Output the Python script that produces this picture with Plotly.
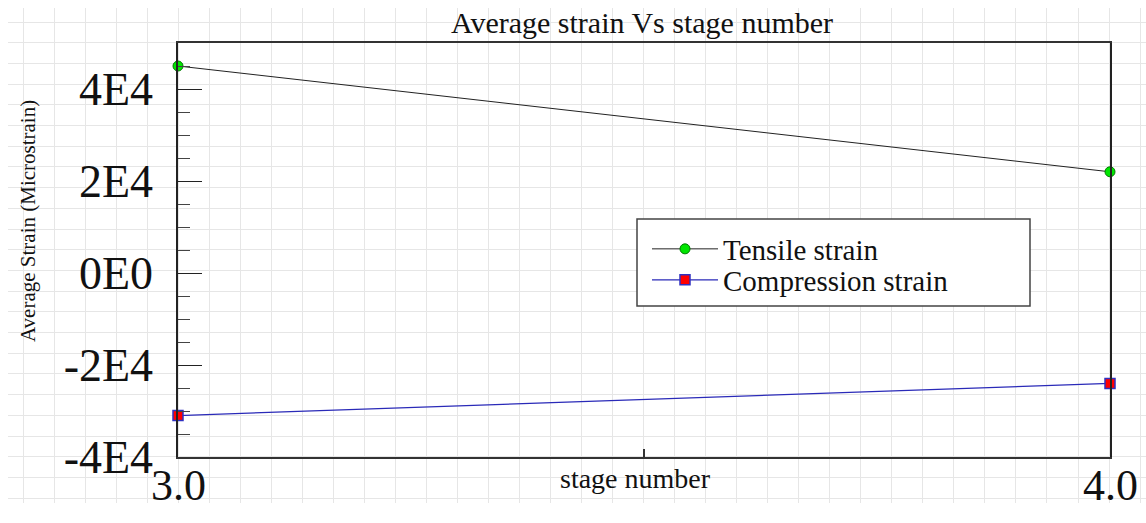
import plotly.graph_objects as go

# ---- data -------------------------------------------------------------
stage = [3.0, 4.0]
tensile_strain = [45000, 22000]
compression_strain = [-31000, -24000]

x_tick_vals = [3.0, 3.5, 4.0]
x_tick_text = ["3.0", "", "4.0"]
y_tick_vals = [-40000, -20000, 0, 20000, 40000]
y_tick_text = ["-4E4", "-2E4", "0E0", "2E4", "4E4"]

# ---- layout constants (pixels) ---------------------------------------
W, H = 1146, 523
FONT = "Liberation Serif, Times New Roman, serif"
PLOT_L, PLOT_R, PLOT_T, PLOT_B = 178, 1110, 43, 457


def px_x(p):
    return p / W


def px_y(p):
    return 1 - p / H


fig = go.Figure()

# Background sheet grid lives on the first (lowest) subplot
fig.add_trace(go.Scatter(
    x=[8], y=[8], mode="markers", marker=dict(opacity=0),
    hoverinfo="skip", showlegend=False, xaxis="x", yaxis="y",
))

# Data series on the second subplot
fig.add_trace(go.Scatter(
    x=stage, y=tensile_strain, name="Tensile strain",
    mode="lines+markers", xaxis="x2", yaxis="y2", legend="legend",
    line=dict(color="#222222", width=1),
    marker=dict(symbol="circle", size=10, color="#00e600",
                line=dict(color="#007a00", width=1)),
    cliponaxis=False,
))
fig.add_trace(go.Scatter(
    x=stage, y=compression_strain, name="Compression strain",
    mode="lines+markers", xaxis="x2", yaxis="y2", legend="legend2",
    line=dict(color="#2a2ab8", width=1.2),
    marker=dict(symbol="square", size=10, color="#ff0000",
                line=dict(color="#3030c0", width=1.5)),
    cliponaxis=False,
))

legend_common = dict(
    xanchor="left", yanchor="middle", bgcolor="rgba(0,0,0,0)",
    borderwidth=0, itemwidth=66,
    font=dict(family=FONT, size=29, color="#111111"),
)

# x tick labels sit close under the frame, drawn as data-anchored text
x_label_annotations = [
    dict(text=t, x=v, xref="x2", y=px_y(485), yref="paper", showarrow=False,
         xanchor="center", yanchor="middle",
         font=dict(family=FONT, size=44, color="#111111"))
    for v, t in zip(x_tick_vals, x_tick_text) if t
]

fig.update_layout(
    width=W, height=H,
    margin=dict(l=0, r=0, t=0, b=0, autoexpand=False),
    paper_bgcolor="white", plot_bgcolor="rgba(0,0,0,0)",
    showlegend=True,
    title=dict(text="Average strain Vs stage number", x=px_x(642), xanchor="center",
               y=px_y(22), yanchor="middle",
               font=dict(family=FONT, size=30, color="#111111")),
    xaxis=dict(domain=[px_x(8), 1], range=[8, W], tick0=23, dtick=31.03,
               showgrid=True, gridcolor="#e6e6e6", gridwidth=1.2,
               zeroline=False, showline=False, showticklabels=False, ticks=""),
    yaxis=dict(domain=[px_y(503), px_y(8)], range=[503, 8], tick0=22, dtick=20.7,
               showgrid=True, gridcolor="#e6e6e6", gridwidth=1.2,
               zeroline=False, showline=False, showticklabels=False, ticks=""),
    xaxis2=dict(domain=[px_x(PLOT_L), px_x(PLOT_R)], anchor="y2", range=[3, 4],
                tickvals=x_tick_vals, showticklabels=False,
                ticks="inside", ticklen=8, tickwidth=1.5, tickcolor="#333333",
                showline=True, mirror=True, linecolor="#333333", linewidth=1.5,
                showgrid=False, zeroline=False),
    yaxis2=dict(domain=[px_y(PLOT_B), px_y(PLOT_T)], anchor="x2",
                range=[-40000, 50000],
                tickvals=y_tick_vals, ticktext=y_tick_text,
                ticks="inside", ticklen=24, tickwidth=1.2, tickcolor="#222222",
                minor=dict(dtick=5000, ticks="inside", ticklen=12,
                           tickwidth=1.2, tickcolor="#444444"),
                showline=True, mirror=True, linecolor="#222222", linewidth=1.5,
                showgrid=False, zeroline=False, ticklabelstandoff=14,
                tickfont=dict(family=FONT, size=46, color="#111111")),
    legend=dict(x=px_x(647), y=px_y(249), **legend_common),
    legend2=dict(x=px_x(647), y=px_y(280), **legend_common),
    shapes=[dict(type="rect", xref="paper", yref="paper",
                 x0=px_x(637), x1=px_x(1030), y0=px_y(306), y1=px_y(219),
                 fillcolor="white", line=dict(color="#444444", width=1.5),
                 layer="above")],
    annotations=x_label_annotations + [
        dict(text="stage number", x=px_x(635), y=px_y(478), xref="paper", yref="paper",
             showarrow=False, xanchor="center", yanchor="middle",
             font=dict(family=FONT, size=28, color="#111111")),
        dict(text="Average Strain (Microstrain)", x=px_x(28), y=px_y(221),
             xref="paper", yref="paper", showarrow=False, textangle=-90,
             xanchor="center", yanchor="middle",
             font=dict(family=FONT, size=21, color="#111111")),
    ],
)

fig.write_html("out.html")
